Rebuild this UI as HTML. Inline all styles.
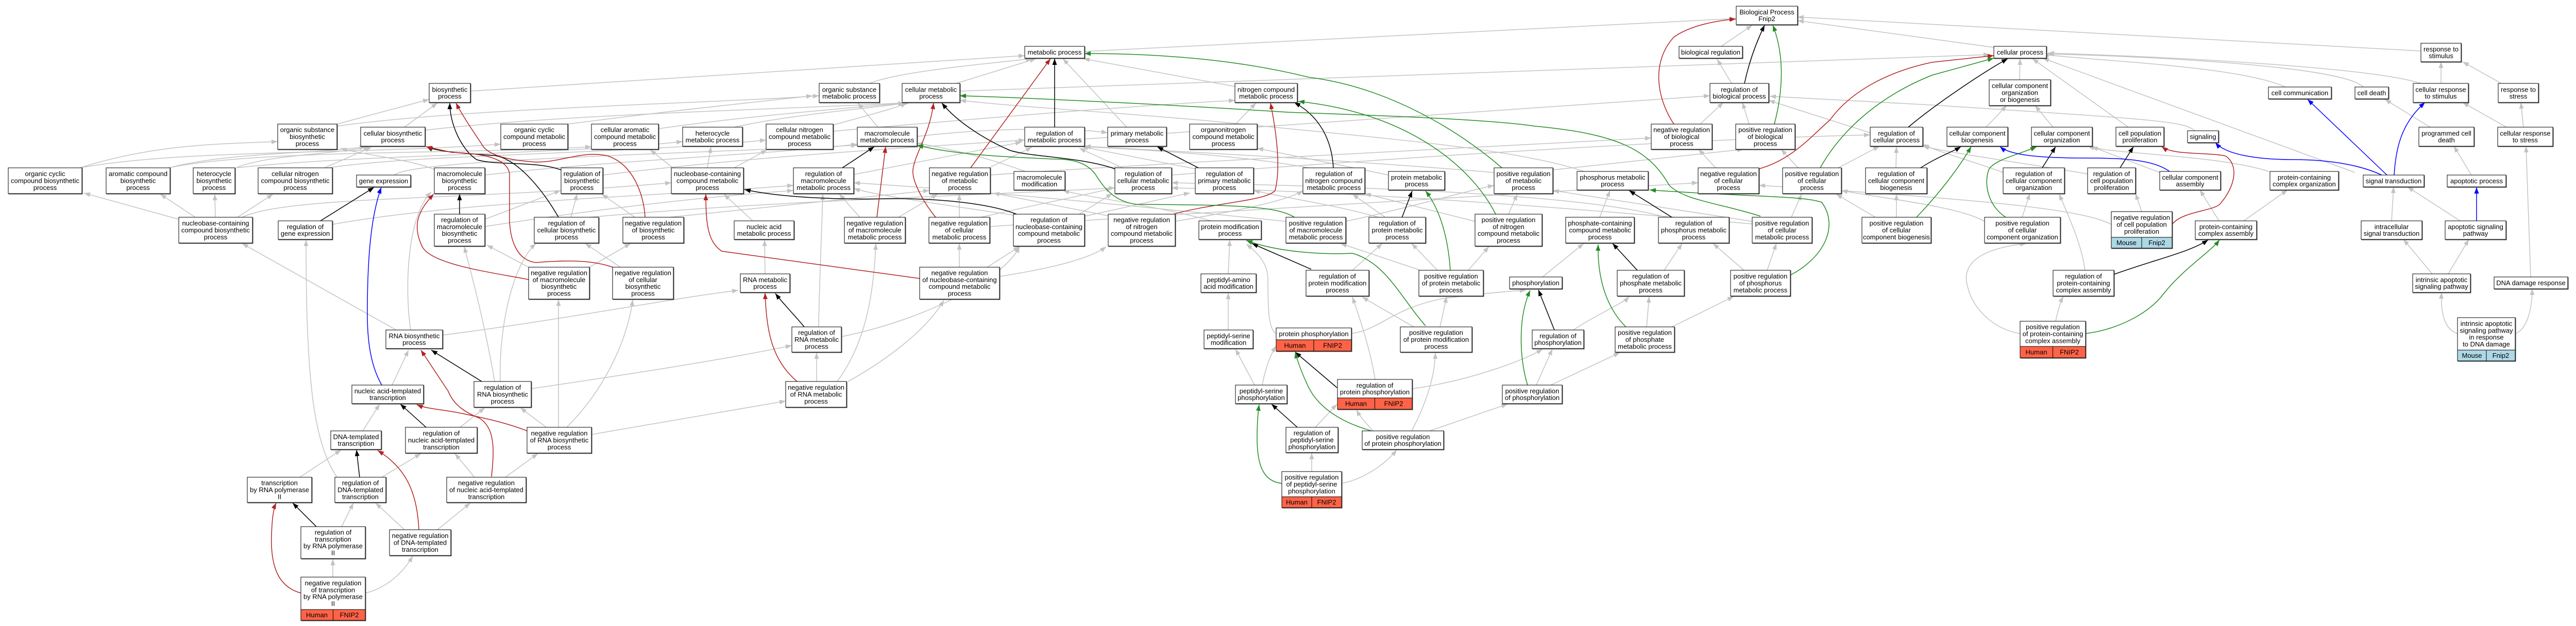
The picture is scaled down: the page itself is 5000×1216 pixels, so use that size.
<!DOCTYPE html>
<html><head><meta charset="utf-8"><style>
html,body{margin:0;padding:0;background:#fff}
svg{display:block}
text{font-family:"Liberation Sans",Arial,sans-serif;font-size:13px;text-anchor:middle;fill:#000}
.n rect{fill:#fff;stroke:#000;stroke-width:1;filter:drop-shadow(1px 1.5px 0 #4a4a4a)}
.n rect.hu{fill:#ff6347}
.n rect.mo{fill:#add8e6}
.e path{fill:none;stroke-width:1.5}
.e .g{stroke:#c3c3c3;marker-end:url(#mg)}
.e .k{stroke:#000;marker-end:url(#mk)}
.e .r{stroke:#b22222;marker-end:url(#mr)}
.e .v{stroke:#228b22;marker-end:url(#mv)}
.e .b{stroke:#0000ff;marker-end:url(#mb)}
.n line{stroke:#000;stroke-width:1}
</style></head><body>
<svg width="5000" height="1216" viewBox="0 0 5000 1216" xmlns="http://www.w3.org/2000/svg">
<defs>
<marker id="mg" viewBox="0 0 12 9" refX="12" refY="4.5" markerWidth="12" markerHeight="9" markerUnits="userSpaceOnUse" orient="auto"><path d="M0,0L12,4.5L0,9z" fill="#c3c3c3"/></marker>
<marker id="mk" viewBox="0 0 12 9" refX="12" refY="4.5" markerWidth="12" markerHeight="9" markerUnits="userSpaceOnUse" orient="auto"><path d="M0,0L12,4.5L0,9z" fill="#000"/></marker>
<marker id="mr" viewBox="0 0 12 9" refX="12" refY="4.5" markerWidth="12" markerHeight="9" markerUnits="userSpaceOnUse" orient="auto"><path d="M0,0L12,4.5L0,9z" fill="#b22222"/></marker>
<marker id="mv" viewBox="0 0 12 9" refX="12" refY="4.5" markerWidth="12" markerHeight="9" markerUnits="userSpaceOnUse" orient="auto"><path d="M0,0L12,4.5L0,9z" fill="#228b22"/></marker>
<marker id="mb" viewBox="0 0 12 9" refX="12" refY="4.5" markerWidth="12" markerHeight="9" markerUnits="userSpaceOnUse" orient="auto"><path d="M0,0L12,4.5L0,9z" fill="#0000ff"/></marker>
</defs>
<rect width="5000" height="1216" fill="#fff"/>
<g class="e">
<!-- gray edges -->
<path class="g" d="M2105,100 L3369,36"/>
<path class="g" d="M913,177 L1989,108"/>
<path class="g" d="M3341,90 L3401,49"/>
<path class="g" d="M3870,92 L3489,40"/>
<path class="g" d="M4699,99 L3489,33"/>
<path class="g" d="M1688,162 C1740,140 1900,125 2003,114"/>
<path class="g" d="M1856,162 L2011,114"/>
<path class="g" d="M2397,168 L2103,114"/>
<path class="g" d="M2187,247 L2063,114"/>
<path class="g" d="M1863,177 L3862,106"/>
<path class="g" d="M3361,162 L3333,115"/>
<path class="g" d="M2105,270 L3319,186"/>
<path class="g" d="M3630,258 L3433,195"/>
<path class="g" d="M3300,241 L3345,199"/>
<path class="g" d="M3395,241 L3382,199"/>
<path class="g" d="M3330,326 L3297,290"/>
<path class="g" d="M3490,326 L3457,290"/>
<path class="g" d="M3568,326 L3648,284"/>
<path class="g" d="M3920,155 L3921,114"/>
<path class="g" d="M3855,247 L3895,205"/>
<path class="g" d="M3985,247 L3950,205"/>
<path class="g" d="M4131,247 L3945,114"/>
<path class="g" d="M4436,169 C4350,130 4100,120 3965,106"/>
<path class="g" d="M4587,169 C4550,130 4200,110 3975,105"/>
<path class="g" d="M4699,162 C4600,130 4200,110 3975,103"/>
<path class="g" d="M4738,162 L4738,120"/>
<path class="g" d="M4855,162 L4780,120"/>
<path class="g" d="M4717,247 L4629,193"/>
<path class="g" d="M4865,247 L4780,199"/>
<path class="g" d="M4898,247 L4893,199"/>
<path class="g" d="M4797,340 L4763,284"/>
<path class="g" d="M4571,335 L3965,113"/>
<path class="g" d="M4404,333 C4300,300 4100,300 4053,284"/>
<path class="g" d="M4192,335 L4060,285"/>
<path class="g" d="M4307,429 L4270,369"/>
<path class="g" d="M4355,429 L4440,369"/>
<path class="g" d="M4642,429 L4646,363"/>
<path class="g" d="M4775,429 L4673,363"/>
<path class="g" d="M4721,532 L4665,465"/>
<path class="g" d="M4752,532 L4792,465"/>
<path class="g" d="M4912,538 L4903,284"/>
<path class="g" d="M4770,648 C4745,640 4737,610 4739,568"/>
<path class="g" d="M4882,648 C4905,640 4915,600 4915,561"/>
<path class="g" d="M4260,254 C4240,235 4180,232 3750,204 L3435,187"/>
<path class="g" d="M4053,338 C3950,320 3800,300 3732,284"/>
<path class="g" d="M3888,335 C3820,310 3760,295 3732,280"/>
<path class="g" d="M4157,411 L4145,376"/>
<path class="g" d="M4098,436 C4050,410 3900,390 3414,360"/>
<path class="g" d="M3925,422 L3940,376"/>
<path class="g" d="M3852,430 C3800,400 3650,385 3574,370"/>
<path class="g" d="M4047,525 C4040,470 4010,410 3997,377"/>
<path class="g" d="M3990,624 C3995,600 4000,585 4005,576"/>
<path class="g" d="M3921,648 C3870,640 3830,600 3820,560 C3800,500 3870,480 3933,473"/>
<path class="g" d="M3680,326 L3681,285"/>
<path class="g" d="M3681,422 L3681,377"/>
<path class="g" d="M3640,422 L3564,377"/>
<path class="g" d="M3477,422 L3497,377"/>
<path class="g" d="M3233,422 C3050,370 2500,360 2274,355"/>
<path class="g" d="M3230,525 L3265,473"/>
<path class="g" d="M3385,525 L3325,473"/>
<path class="g" d="M3430,525 L3448,473"/>
<path class="g" d="M3054,641 C3100,610 3150,590 3162,576"/>
<path class="g" d="M2742,755 C2850,740 2960,700 2994,678"/>
<path class="g" d="M2982,748 L3013,678"/>
<path class="g" d="M3010,748 L3144,685"/>
<path class="g" d="M3196,635 L3201,576"/>
<path class="g" d="M3245,635 L3365,576"/>
<path class="g" d="M2994,538 L3074,473"/>
<path class="g" d="M3105,422 L3125,370"/>
<path class="g" d="M3074,333 C2950,290 2700,270 2400,240 C2200,220 2000,210 1863,195"/>
<path class="g" d="M3014,330 L3384,290"/>
<path class="g" d="M1922,340 C2200,320 2600,300 3205,268"/>
<path class="g" d="M2900,335 C2600,310 2300,295 2105,284"/>
<path class="g" d="M2679,423 C2600,400 2500,385 2433,370"/>
<path class="g" d="M2690,423 L2625,377"/>
<path class="g" d="M2790,525 L2740,473"/>
<path class="g" d="M2850,525 L2890,479"/>
<path class="g" d="M2757,525 L2602,473"/>
<path class="g" d="M2625,525 L2683,473"/>
<path class="g" d="M2744,635 L2644,577"/>
<path class="g" d="M2795,635 L2808,576"/>
<path class="g" d="M2669,737 C2660,680 2640,620 2625,577"/>
<path class="g" d="M2665,837 C2650,820 2640,810 2633,796"/>
<path class="g" d="M2740,837 C2770,780 2785,730 2786,685"/>
<path class="g" d="M2775,837 L2926,785"/>
<path class="g" d="M2477,648 C2462,640 2461,600 2461,541 C2460,510 2440,490 2419,474"/>
<path class="g" d="M2623,648 C2680,640 2700,600 2800,580 C2880,570 2930,565 2962,564"/>
<path class="g" d="M2384,532 L2387,466"/>
<path class="g" d="M2384,641 L2384,569"/>
<path class="g" d="M2435,748 L2398,678"/>
<path class="g" d="M2450,748 C2455,720 2465,690 2477,672"/>
<path class="g" d="M2553,830 L2595,785"/>
<path class="g" d="M2546,916 L2546,880"/>
<path class="g" d="M2604,939 C2650,930 2690,900 2711,874"/>
<path class="g" d="M2350,429 C2250,400 2120,385 2063,370"/>
<path class="g" d="M1990,333 C1900,300 1820,285 1780,278"/>
<path class="g" d="M2695,340 C2600,320 2500,300 2440,288"/>
<path class="g" d="M1373,326 L1380,285"/>
<path class="g" d="M1306,326 L1262,291"/>
<path class="g" d="M1425,326 L1489,291"/>
<path class="g" d="M1461,429 L1405,377"/>
<path class="g" d="M1485,532 L1484,466"/>
<path class="g" d="M1633,654 C1800,620 1950,540 1979,479"/>
<path class="g" d="M1585,741 L1585,685"/>
<path class="g" d="M1646,741 C1720,700 1800,640 1832,583"/>
<path class="g" d="M1625,741 C1670,680 1695,600 1700,473"/>
<path class="g" d="M1589,635 C1590,560 1595,450 1597,377"/>
<path class="g" d="M1031,755 C1200,730 1400,700 1537,671"/>
<path class="g" d="M1148,844 L1525,779"/>
<path class="g" d="M1060,830 L1010,792"/>
<path class="g" d="M1084,830 L1084,582"/>
<path class="g" d="M1100,830 C1180,750 1220,650 1228,582"/>
<path class="g" d="M971,741 C968,650 990,520 1040,473"/>
<path class="g" d="M960,741 C945,650 920,550 901,479"/>
<path class="g" d="M769,641 L470,473"/>
<path class="g" d="M859,651 C1100,620 1300,580 1433,564"/>
<path class="g" d="M797,641 C785,560 790,420 837,373"/>
<path class="g" d="M761,748 L793,680"/>
<path class="g" d="M893,830 L941,792"/>
<path class="g" d="M921,927 L883,881"/>
<path class="g" d="M981,927 L1044,881"/>
<path class="g" d="M704,837 L737,785"/>
<path class="g" d="M741,927 L817,881"/>
<path class="g" d="M654,927 C610,860 594,750 594,466"/>
<path class="g" d="M582,927 L662,874"/>
<path class="g" d="M663,1023 L686,977"/>
<path class="g" d="M785,1029 L729,977"/>
<path class="g" d="M849,1029 L913,977"/>
<path class="g" d="M646,1121 L646,1086"/>
<path class="g" d="M709,1152 C760,1140 790,1100 801,1080"/>
<path class="g" d="M347,426 L163,375"/>
<path class="g" d="M379,422 L311,377"/>
<path class="g" d="M418,422 L417,377"/>
<path class="g" d="M461,422 L530,377"/>
<path class="g" d="M470,422 C560,380 900,390 1303,355"/>
<path class="g" d="M155,326 C300,280 420,280 539,275"/>
<path class="g" d="M155,326 C350,290 700,300 972,280"/>
<path class="g" d="M327,326 C500,290 900,300 1148,285"/>
<path class="g" d="M327,326 C450,295 600,300 710,285"/>
<path class="g" d="M458,326 C520,300 650,300 717,285"/>
<path class="g" d="M458,326 C700,300 1100,300 1325,275"/>
<path class="g" d="M630,326 L721,286"/>
<path class="g" d="M638,326 C800,300 1200,300 1487,272"/>
<path class="g" d="M654,241 L833,193"/>
<path class="g" d="M654,245 C900,210 1400,200 1590,186"/>
<path class="g" d="M785,247 L849,200"/>
<path class="g" d="M825,253 C1100,220 1600,210 1768,199"/>
<path class="g" d="M845,330 C800,310 700,300 661,288"/>
<path class="g" d="M941,340 C1200,310 1500,300 1664,280"/>
<path class="g" d="M765,340 C800,310 1300,300 1664,282"/>
<path class="g" d="M645,436 C900,390 1300,380 1540,360"/>
<path class="g" d="M941,426 L1088,370"/>
<path class="g" d="M941,440 C1200,400 1400,380 1540,370"/>
<path class="g" d="M1108,422 L1120,377"/>
<path class="g" d="M1144,422 C1500,390 1900,380 2164,365"/>
<path class="g" d="M1232,422 L1168,377"/>
<path class="g" d="M1300,422 C1500,400 1700,380 1804,370"/>
<path class="g" d="M1026,519 L945,476"/>
<path class="g" d="M1144,519 L1224,473"/>
<path class="g" d="M1204,519 L1136,473"/>
<path class="g" d="M1657,339 L1983,276"/>
<path class="g" d="M2179,326 L2095,288"/>
<path class="g" d="M2330,330 L2100,285"/>
<path class="g" d="M1920,326 L2003,286"/>
<path class="g" d="M1669,422 L1629,377"/>
<path class="g" d="M1744,422 L1820,377"/>
<path class="g" d="M1862,422 L1862,377"/>
<path class="g" d="M1904,422 C2000,400 2100,380 2159,366"/>
<path class="g" d="M2095,416 L2159,376"/>
<path class="g" d="M1967,418 C1850,400 1700,380 1657,366"/>
<path class="g" d="M2105,420 C2200,400 2280,380 2310,375"/>
<path class="g" d="M2155,420 L1928,375"/>
<path class="g" d="M2281,430 C2400,410 2500,390 2529,370"/>
<path class="g" d="M1916,519 L1979,479"/>
<path class="g" d="M1862,519 L1862,473"/>
<path class="g" d="M1940,537 C2050,520 2120,500 2147,479"/>
<path class="g" d="M2398,241 L2438,200"/>
<path class="g" d="M1617,243 C1680,225 1740,210 1760,200"/>
<path class="g" d="M1617,255 C1900,230 2200,205 2397,195"/>
<path class="g" d="M1704,247 L1665,200"/>
<path class="g" d="M1425,247 C1550,220 1700,210 1757,200"/>
<path class="g" d="M1102,241 C1300,215 1500,195 1577,186"/>
<path class="g" d="M1278,250 C1450,225 1650,210 1755,200"/>
<path class="g" d="M1170,340 C1500,300 1800,285 1989,272"/>
<path class="g" d="M2274,340 C2800,300 3300,270 3630,262"/>
<path class="g" d="M1921,440 C2400,410 3000,370 3296,355"/>
<path class="g" d="M2540,326 C2400,300 2200,290 2105,285"/>
<path class="g" d="M1780,265 C1950,245 2100,250 2150,258"/>
<path class="g" d="M2496,430 C2200,400 1900,370 1657,355"/>
<path class="g" d="M2612,430 C2750,400 2850,370 2900,360"/>
<path class="g" d="M2928,416 L2945,377"/>
<path class="g" d="M2863,430 L2649,376"/>
<path class="g" d="M3401,435 C3000,400 2600,370 2274,365"/>
<path class="g" d="M3401,430 L3014,370"/>
<!-- black -->
<path class="k" d="M1089,330 C1040,312 960,322 925,310 C895,290 873,240 873,200"/>
<path class="k" d="M1084,422 C1060,380 1010,310 960,302 C900,298 850,295 828,285"/>
<path class="k" d="M892,416 L892,377"/>
<path class="k" d="M622,429 L726,364"/>
<path class="k" d="M1635,326 L1697,285"/>
<path class="k" d="M2164,328 C2100,305 2000,305 1960,292 C1920,275 1860,240 1828,200"/>
<path class="k" d="M2047,247 L2047,114"/>
<path class="k" d="M2326,326 L2246,285"/>
<path class="k" d="M1973,416 C1920,395 1820,385 1730,386 C1640,388 1520,385 1445,368"/>
<path class="k" d="M2588,326 C2585,270 2560,225 2512,199"/>
<path class="k" d="M2721,423 L2741,371"/>
<path class="k" d="M2545,523 L2430,473"/>
<path class="k" d="M2595,753 L2514,684"/>
<path class="k" d="M2518,830 L2468,785"/>
<path class="k" d="M3017,641 L2986,563"/>
<path class="k" d="M3245,422 L3162,370"/>
<path class="k" d="M3178,525 L3130,473"/>
<path class="k" d="M3386,162 C3395,120 3410,80 3425,49"/>
<path class="k" d="M3704,247 C3760,200 3850,140 3897,114"/>
<path class="k" d="M3728,326 C3760,305 3790,295 3806,285"/>
<path class="k" d="M3964,326 L3990,285"/>
<path class="k" d="M4115,326 L4141,285"/>
<path class="k" d="M4103,533 C4180,505 4250,490 4286,466"/>
<path class="k" d="M935,741 L837,680"/>
<path class="k" d="M827,830 L777,785"/>
<path class="k" d="M698,927 L692,874"/>
<path class="k" d="M614,1023 L568,977"/>
<path class="k" d="M1561,635 C1545,615 1520,590 1505,570"/>
<!-- red -->
<path class="r" d="M1252,422 C1250,380 1230,320 1180,303 C1130,290 1080,320 1030,314 C980,310 945,300 935,280 C915,250 895,220 885,200"/>
<path class="r" d="M1189,519 C1150,505 1100,505 1040,510 C1000,505 990,460 989,428 L989,338 C985,305 930,298 877,296 L827,285"/>
<path class="r" d="M1026,543 C960,530 840,515 820,480 C800,440 810,410 842,377"/>
<path class="r" d="M1702,422 L1719,285"/>
<path class="r" d="M1816,422 C1790,390 1770,350 1772,330 C1775,300 1805,260 1812,200"/>
<path class="r" d="M1884,326 L2039,114"/>
<path class="r" d="M2278,416 C2350,395 2460,390 2475,370 C2485,330 2480,270 2466,200"/>
<path class="r" d="M1785,541 L1401,488 C1375,470 1370,440 1370,377"/>
<path class="r" d="M1547,741 C1500,700 1488,650 1485,569"/>
<path class="r" d="M3249,241 C3215,190 3205,120 3249,72 C3280,50 3330,40 3369,37"/>
<path class="r" d="M3414,328 C3480,310 3520,260 3552,233 C3590,180 3660,140 3750,121 L3870,108"/>
<path class="r" d="M4216,436 C4235,410 4300,410 4310,395 C4340,360 4345,320 4320,303 C4280,295 4220,302 4196,285"/>
<path class="r" d="M954,926 C960,870 960,830 930,812 C900,800 880,785 870,760 L817,680"/>
<path class="r" d="M1023,837 C980,820 930,810 901,804 C860,795 830,795 809,786"/>
<path class="r" d="M813,1029 C810,960 790,910 733,875"/>
<path class="r" d="M584,1152 C540,1140 525,1100 527,1040 C528,1010 530,990 536,977"/>
<!-- green -->
<path class="v" d="M2915,326 C2840,260 2700,170 2540,150 C2400,115 2250,104 2105,104"/>
<path class="v" d="M3417,420 C3340,395 3270,390 3240,360 C3200,290 3140,260 2978,245 C2880,230 2600,222 2500,218 C2300,205 2000,190 1863,186"/>
<path class="v" d="M2514,423 C2480,400 2400,398 2207,397 C2160,392 2140,360 2127,340 C2110,315 2080,309 2047,309 C1950,305 1850,300 1780,282"/>
<path class="v" d="M2903,416 C2860,330 2740,220 2520,197"/>
<path class="v" d="M2767,633 C2720,580 2690,510 2625,492 C2570,495 2480,490 2419,467"/>
<path class="v" d="M2815,525 C2810,450 2790,400 2767,371"/>
<path class="v" d="M2662,837 C2620,825 2560,800 2537,746 C2525,720 2518,700 2514,684"/>
<path class="v" d="M2488,939 C2450,935 2440,900 2440,850 C2440,820 2442,800 2444,786"/>
<path class="v" d="M2965,748 C2950,700 2945,620 2970,564"/>
<path class="v" d="M3476,534 C3540,500 3570,440 3536,393 C3500,380 3400,383 3202,369"/>
<path class="v" d="M3156,635 C3130,610 3100,560 3102,475"/>
<path class="v" d="M3444,241 C3460,180 3465,110 3441,49"/>
<path class="v" d="M3533,326 C3570,260 3640,190 3750,146 L3870,113"/>
<path class="v" d="M3720,422 C3760,380 3800,330 3826,285"/>
<path class="v" d="M3893,422 C3860,400 3850,360 3860,330 C3870,310 3920,300 3953,285"/>
<path class="v" d="M4048,648 C4110,640 4170,610 4200,570 C4240,520 4290,490 4308,466"/>
<!-- blue -->
<path class="b" d="M741,748 C725,720 713,680 713,610 C713,500 720,420 740,364"/>
<path class="b" d="M4211,333 C4180,310 4120,307 4050,307 C3950,307 3900,300 3882,285"/>
<path class="b" d="M4623,340 C4580,320 4520,310 4450,310 C4380,310 4320,300 4300,277"/>
<path class="b" d="M4633,340 L4479,193"/>
<path class="b" d="M4647,340 C4650,290 4660,240 4707,199"/>
<path class="b" d="M4807,429 L4807,364"/>
</g>
<g class="n">
<rect x="3370" y="12" width="119" height="36"/><text x="3429.5" y="27.8">Biological Process<tspan x="3429.5" dy="13.4">Fnip2</tspan></text>
<rect x="1989" y="90" width="116" height="23"/><text x="2047" y="106">metabolic process</text>
<rect x="3259" y="90" width="123" height="23"/><text x="3320.5" y="106">biological regulation</text>
<rect x="3870" y="90" width="102" height="23"/><text x="3921" y="106">cellular process</text>
<rect x="4699" y="84" width="78" height="36"/><text x="4738" y="99.8">response to<tspan x="4738" dy="13.4">stimulus</tspan></text>
<rect x="833" y="162" width="80" height="37"/><text x="873" y="178.3">biosynthetic<tspan x="873" dy="13.4">process</tspan></text>
<rect x="1590" y="162" width="117" height="37"/><text x="1648.5" y="178.3">organic substance<tspan x="1648.5" dy="13.4">metabolic process</tspan></text>
<rect x="1751" y="162" width="112" height="37"/><text x="1807" y="178.3">cellular metabolic<tspan x="1807" dy="13.4">process</tspan></text>
<rect x="2397" y="162" width="121" height="37"/><text x="2457.5" y="178.3">nitrogen compound<tspan x="2457.5" dy="13.4">metabolic process</tspan></text>
<rect x="3319" y="162" width="114" height="37"/><text x="3376" y="178.3">regulation of<tspan x="3376" dy="13.4">biological process</tspan></text>
<rect x="3861" y="155" width="119" height="50"/><text x="3920.5" y="171.1">cellular component<tspan x="3920.5" dy="13.4">organization</tspan><tspan x="3920.5" dy="13.4">or biogenesis</tspan></text>
<rect x="4403" y="169" width="122" height="23"/><text x="4464" y="185">cell communication</text>
<rect x="4571" y="169" width="65" height="23"/><text x="4603.5" y="185">cell death</text>
<rect x="4684" y="162" width="107" height="37"/><text x="4737.5" y="178.3">cellular response<tspan x="4737.5" dy="13.4">to stimulus</tspan></text>
<rect x="4849" y="162" width="78" height="37"/><text x="4888" y="178.3">response to<tspan x="4888" dy="13.4">stress</tspan></text>

<rect x="539" y="241" width="115" height="49"/><text x="596.5" y="256.6">organic substance<tspan x="596.5" dy="13.4">biosynthetic</tspan><tspan x="596.5" dy="13.4">process</tspan></text>
<rect x="700" y="247" width="125" height="37"/><text x="762.5" y="263.3">cellular biosynthetic<tspan x="762.5" dy="13.4">process</tspan></text>
<rect x="972" y="241" width="130" height="49"/><text x="1037" y="256.6">organic cyclic<tspan x="1037" dy="13.4">compound metabolic</tspan><tspan x="1037" dy="13.4">process</tspan></text>
<rect x="1148" y="241" width="130" height="49"/><text x="1213" y="256.6">cellular aromatic<tspan x="1213" dy="13.4">compound metabolic</tspan><tspan x="1213" dy="13.4">process</tspan></text>
<rect x="1325" y="247" width="116" height="37"/><text x="1383" y="263.3">heterocycle<tspan x="1383" dy="13.4">metabolic process</tspan></text>
<rect x="1487" y="241" width="130" height="49"/><text x="1552" y="256.6">cellular nitrogen<tspan x="1552" dy="13.4">compound metabolic</tspan><tspan x="1552" dy="13.4">process</tspan></text>
<rect x="1664" y="247" width="116" height="37"/><text x="1722" y="263.3">macromolecule<tspan x="1722" dy="13.4">metabolic process</tspan></text>
<rect x="1989" y="247" width="116" height="37"/><text x="2047" y="263.3">regulation of<tspan x="2047" dy="13.4">metabolic process</tspan></text>
<rect x="2150" y="247" width="114" height="37"/><text x="2207" y="263.3">primary metabolic<tspan x="2207" dy="13.4">process</tspan></text>
<rect x="2309" y="241" width="131" height="49"/><text x="2374.5" y="256.6">organonitrogen<tspan x="2374.5" dy="13.4">compound metabolic</tspan><tspan x="2374.5" dy="13.4">process</tspan></text>
<rect x="3205" y="241" width="118" height="49"/><text x="3264" y="256.6">negative regulation<tspan x="3264" dy="13.4">of biological</tspan><tspan x="3264" dy="13.4">process</tspan></text>
<rect x="3369" y="241" width="115" height="49"/><text x="3426.5" y="256.6">positive regulation<tspan x="3426.5" dy="13.4">of biological</tspan><tspan x="3426.5" dy="13.4">process</tspan></text>
<rect x="3630" y="247" width="102" height="37"/><text x="3681" y="263.3">regulation of<tspan x="3681" dy="13.4">cellular process</tspan></text>
<rect x="3779" y="247" width="118" height="37"/><text x="3838" y="263.3">cellular component<tspan x="3838" dy="13.4">biogenesis</tspan></text>
<rect x="3943" y="247" width="118" height="37"/><text x="4002" y="263.3">cellular component<tspan x="4002" dy="13.4">organization</tspan></text>
<rect x="4107" y="247" width="93" height="37"/><text x="4153.5" y="263.3">cell population<tspan x="4153.5" dy="13.4">proliferation</tspan></text>
<rect x="4246" y="254" width="60" height="23"/><text x="4276" y="270">signaling</text>
<rect x="4695" y="247" width="107" height="37"/><text x="4748.5" y="263.3">programmed cell<tspan x="4748.5" dy="13.4">death</tspan></text>
<rect x="4848" y="247" width="107" height="37"/><text x="4901.5" y="263.3">cellular response<tspan x="4901.5" dy="13.4">to stress</tspan></text>

<rect x="16" y="326" width="143" height="50"/><text x="87.5" y="342.1">organic cyclic<tspan x="87.5" dy="13.4">compound biosynthetic</tspan><tspan x="87.5" dy="13.4">process</tspan></text>
<rect x="206" y="326" width="124" height="50"/><text x="268" y="342.1">aromatic compound<tspan x="268" dy="13.4">biosynthetic</tspan><tspan x="268" dy="13.4">process</tspan></text>
<rect x="375" y="326" width="81" height="50"/><text x="415.5" y="342.1">heterocycle<tspan x="415.5" dy="13.4">biosynthetic</tspan><tspan x="415.5" dy="13.4">process</tspan></text>
<rect x="501" y="326" width="144" height="50"/><text x="573" y="342.1">cellular nitrogen<tspan x="573" dy="13.4">compound biosynthetic</tspan><tspan x="573" dy="13.4">process</tspan></text>
<rect x="692" y="340" width="105" height="23"/><text x="744.5" y="356">gene expression</text>
<rect x="843" y="326" width="98" height="50"/><text x="892" y="342.1">macromolecule<tspan x="892" dy="13.4">biosynthetic</tspan><tspan x="892" dy="13.4">process</tspan></text>
<rect x="1089" y="326" width="81" height="50"/><text x="1129.5" y="342.1">regulation of<tspan x="1129.5" dy="13.4">biosynthetic</tspan><tspan x="1129.5" dy="13.4">process</tspan></text>
<rect x="1303" y="326" width="140" height="50"/><text x="1373" y="342.1">nucleobase-containing<tspan x="1373" dy="13.4">compound metabolic</tspan><tspan x="1373" dy="13.4">process</tspan></text>
<rect x="1540" y="326" width="117" height="50"/><text x="1598.5" y="342.1">regulation of<tspan x="1598.5" dy="13.4">macromolecule</tspan><tspan x="1598.5" dy="13.4">metabolic process</tspan></text>
<rect x="1804" y="326" width="118" height="50"/><text x="1863" y="342.1">negative regulation<tspan x="1863" dy="13.4">of metabolic</tspan><tspan x="1863" dy="13.4">process</tspan></text>
<rect x="1968" y="333" width="99" height="36"/><text x="2017.5" y="348.8">macromolecule<tspan x="2017.5" dy="13.4">modification</tspan></text>
<rect x="2164" y="326" width="110" height="50"/><text x="2219" y="342.1">regulation of<tspan x="2219" dy="13.4">cellular metabolic</tspan><tspan x="2219" dy="13.4">process</tspan></text>
<rect x="2320" y="326" width="113" height="50"/><text x="2376.5" y="342.1">regulation of<tspan x="2376.5" dy="13.4">primary metabolic</tspan><tspan x="2376.5" dy="13.4">process</tspan></text>
<rect x="2529" y="326" width="120" height="50"/><text x="2589" y="342.1">regulation of<tspan x="2589" dy="13.4">nitrogen compound</tspan><tspan x="2589" dy="13.4">metabolic process</tspan></text>
<rect x="2695" y="333" width="109" height="36"/><text x="2749.5" y="348.8">protein metabolic<tspan x="2749.5" dy="13.4">process</tspan></text>
<rect x="2900" y="326" width="114" height="50"/><text x="2957" y="342.1">positive regulation<tspan x="2957" dy="13.4">of metabolic</tspan><tspan x="2957" dy="13.4">process</tspan></text>
<rect x="3061" y="333" width="138" height="36"/><text x="3130" y="348.8">phosphorus metabolic<tspan x="3130" dy="13.4">process</tspan></text>
<rect x="3296" y="326" width="118" height="50"/><text x="3355" y="342.1">negative regulation<tspan x="3355" dy="13.4">of cellular</tspan><tspan x="3355" dy="13.4">process</tspan></text>
<rect x="3460" y="326" width="114" height="50"/><text x="3517" y="342.1">positive regulation<tspan x="3517" dy="13.4">of cellular</tspan><tspan x="3517" dy="13.4">process</tspan></text>
<rect x="3621" y="326" width="119" height="50"/><text x="3680.5" y="342.1">regulation of<tspan x="3680.5" dy="13.4">cellular component</tspan><tspan x="3680.5" dy="13.4">biogenesis</tspan></text>
<rect x="3888" y="326" width="119" height="50"/><text x="3947.5" y="342.1">regulation of<tspan x="3947.5" dy="13.4">cellular component</tspan><tspan x="3947.5" dy="13.4">organization</tspan></text>
<rect x="4052" y="326" width="93" height="50"/><text x="4098.5" y="342.1">regulation of<tspan x="4098.5" dy="13.4">cell population</tspan><tspan x="4098.5" dy="13.4">proliferation</tspan></text>
<rect x="4192" y="333" width="118" height="36"/><text x="4251" y="348.8">cellular component<tspan x="4251" dy="13.4">assembly</tspan></text>
<rect x="4406" y="333" width="133" height="36"/><text x="4472.5" y="348.8">protein-containing<tspan x="4472.5" dy="13.4">complex organization</tspan></text>
<rect x="4587" y="340" width="118" height="23"/><text x="4646" y="356">signal transduction</text>
<rect x="4750" y="340" width="114" height="23"/><text x="4807" y="356">apoptotic process</text>

<rect x="347" y="422" width="143" height="50"/><text x="418.5" y="438.1">nucleobase-containing<tspan x="418.5" dy="13.4">compound biosynthetic</tspan><tspan x="418.5" dy="13.4">process</tspan></text>
<rect x="540" y="429" width="105" height="36"/><text x="592.5" y="444.8">regulation of<tspan x="592.5" dy="13.4">gene expression</tspan></text>
<rect x="843" y="416" width="98" height="62"/><text x="892" y="431.4">regulation of<tspan x="892" dy="13.4">macromolecule</tspan><tspan x="892" dy="13.4">biosynthetic</tspan><tspan x="892" dy="13.4">process</tspan></text>
<rect x="1037" y="422" width="125" height="50"/><text x="1099.5" y="438.1">regulation of<tspan x="1099.5" dy="13.4">cellular biosynthetic</tspan><tspan x="1099.5" dy="13.4">process</tspan></text>
<rect x="1209" y="422" width="118" height="50"/><text x="1268" y="438.1">negative regulation<tspan x="1268" dy="13.4">of biosynthetic</tspan><tspan x="1268" dy="13.4">process</tspan></text>
<rect x="1425" y="429" width="116" height="36"/><text x="1483" y="444.8">nucleic acid<tspan x="1483" dy="13.4">metabolic process</tspan></text>
<rect x="1639" y="422" width="118" height="50"/><text x="1698" y="438.1">negative regulation<tspan x="1698" dy="13.4">of macromolecule</tspan><tspan x="1698" dy="13.4">metabolic process</tspan></text>
<rect x="1803" y="422" width="118" height="50"/><text x="1862" y="438.1">negative regulation<tspan x="1862" dy="13.4">of cellular</tspan><tspan x="1862" dy="13.4">metabolic process</tspan></text>
<rect x="1967" y="416" width="138" height="62"/><text x="2036" y="431.4">regulation of<tspan x="2036" dy="13.4">nucleobase-containing</tspan><tspan x="2036" dy="13.4">compound metabolic</tspan><tspan x="2036" dy="13.4">process</tspan></text>
<rect x="2151" y="416" width="130" height="62"/><text x="2216" y="431.4">negative regulation<tspan x="2216" dy="13.4">of nitrogen</tspan><tspan x="2216" dy="13.4">compound metabolic</tspan><tspan x="2216" dy="13.4">process</tspan></text>
<rect x="2327" y="429" width="121" height="36"/><text x="2387.5" y="444.8">protein modification<tspan x="2387.5" dy="13.4">process</tspan></text>
<rect x="2496" y="422" width="116" height="50"/><text x="2554" y="438.1">positive regulation<tspan x="2554" dy="13.4">of macromolecule</tspan><tspan x="2554" dy="13.4">metabolic process</tspan></text>
<rect x="2657" y="422" width="110" height="50"/><text x="2712" y="438.1">regulation of<tspan x="2712" dy="13.4">protein metabolic</tspan><tspan x="2712" dy="13.4">process</tspan></text>
<rect x="2863" y="416" width="130" height="62"/><text x="2928" y="431.4">positive regulation<tspan x="2928" dy="13.4">of nitrogen</tspan><tspan x="2928" dy="13.4">compound metabolic</tspan><tspan x="2928" dy="13.4">process</tspan></text>
<rect x="3039" y="422" width="133" height="50"/><text x="3105.5" y="438.1">phosphate-containing<tspan x="3105.5" dy="13.4">compound metabolic</tspan><tspan x="3105.5" dy="13.4">process</tspan></text>
<rect x="3219" y="422" width="137" height="50"/><text x="3287.5" y="438.1">regulation of<tspan x="3287.5" dy="13.4">phosphorus metabolic</tspan><tspan x="3287.5" dy="13.4">process</tspan></text>
<rect x="3401" y="422" width="116" height="50"/><text x="3459" y="438.1">positive regulation<tspan x="3459" dy="13.4">of cellular</tspan><tspan x="3459" dy="13.4">metabolic process</tspan></text>
<rect x="3614" y="422" width="134" height="50"/><text x="3681" y="438.1">positive regulation<tspan x="3681" dy="13.4">of cellular</tspan><tspan x="3681" dy="13.4">component biogenesis</tspan></text>
<rect x="3852" y="422" width="147" height="50"/><text x="3925.5" y="438.1">positive regulation<tspan x="3925.5" dy="13.4">of cellular</tspan><tspan x="3925.5" dy="13.4">component organization</tspan></text>
<rect x="4098" y="411" width="118" height="50"/><text x="4157" y="427.1">negative regulation<tspan x="4157" dy="13.4">of cell population</tspan><tspan x="4157" dy="13.4">proliferation</tspan></text>
<rect class="mo" x="4098" y="461" width="118" height="21"/><line x1="4157" y1="461" x2="4157" y2="482"/><text x="4127.5" y="476">Mouse</text><text x="4186.5" y="476">Fnip2</text>
<rect x="4261" y="429" width="119" height="36"/><text x="4320.5" y="444.8">protein-containing<tspan x="4320.5" dy="13.4">complex assembly</tspan></text>
<rect x="4583" y="429" width="118" height="36"/><text x="4642" y="444.8">intracellular<tspan x="4642" dy="13.4">signal transduction</tspan></text>
<rect x="4746" y="429" width="118" height="36"/><text x="4805" y="444.8">apoptotic signaling<tspan x="4805" dy="13.4">pathway</tspan></text>

<rect x="1026" y="519" width="118" height="62"/><text x="1085" y="534.4">negative regulation<tspan x="1085" dy="13.4">of macromolecule</tspan><tspan x="1085" dy="13.4">biosynthetic</tspan><tspan x="1085" dy="13.4">process</tspan></text>
<rect x="1189" y="519" width="118" height="62"/><text x="1248" y="534.4">negative regulation<tspan x="1248" dy="13.4">of cellular</tspan><tspan x="1248" dy="13.4">biosynthetic</tspan><tspan x="1248" dy="13.4">process</tspan></text>
<rect x="1437" y="532" width="96" height="36"/><text x="1485" y="547.8">RNA metabolic<tspan x="1485" dy="13.4">process</tspan></text>
<rect x="1785" y="519" width="155" height="62"/><text x="1862.5" y="534.4">negative regulation<tspan x="1862.5" dy="13.4">of nucleobase-containing</tspan><tspan x="1862.5" dy="13.4">compound metabolic</tspan><tspan x="1862.5" dy="13.4">process</tspan></text>
<rect x="2331" y="532" width="107" height="36"/><text x="2384.5" y="547.8">peptidyl-amino<tspan x="2384.5" dy="13.4">acid modification</tspan></text>
<rect x="2535" y="525" width="122" height="50"/><text x="2596" y="541.1">regulation of<tspan x="2596" dy="13.4">protein modification</tspan><tspan x="2596" dy="13.4">process</tspan></text>
<rect x="2754" y="525" width="125" height="50"/><text x="2816.5" y="541.1">positive regulation<tspan x="2816.5" dy="13.4">of protein metabolic</tspan><tspan x="2816.5" dy="13.4">process</tspan></text>
<rect x="2930" y="538" width="102" height="23"/><text x="2981" y="554">phosphorylation</text>
<rect x="3139" y="525" width="130" height="50"/><text x="3204" y="541.1">regulation of<tspan x="3204" dy="13.4">phosphate metabolic</tspan><tspan x="3204" dy="13.4">process</tspan></text>
<rect x="3359" y="525" width="116" height="50"/><text x="3417" y="541.1">positive regulation<tspan x="3417" dy="13.4">of phosphorus</tspan><tspan x="3417" dy="13.4">metabolic process</tspan></text>
<rect x="3985" y="525" width="118" height="50"/><text x="4044" y="541.1">regulation of<tspan x="4044" dy="13.4">protein-containing</tspan><tspan x="4044" dy="13.4">complex assembly</tspan></text>
<rect x="4683" y="532" width="112" height="36"/><text x="4739" y="547.8">intrinsic apoptotic<tspan x="4739" dy="13.4">signaling pathway</tspan></text>
<rect x="4841" y="538" width="143" height="23"/><text x="4912.5" y="554">DNA damage response</text>

<rect x="749" y="641" width="110" height="36"/><text x="804" y="656.8">RNA biosynthetic<tspan x="804" dy="13.4">process</tspan></text>
<rect x="1537" y="635" width="96" height="49"/><text x="1585" y="650.6">regulation of<tspan x="1585" dy="13.4">RNA metabolic</tspan><tspan x="1585" dy="13.4">process</tspan></text>
<rect x="2337" y="641" width="95" height="36"/><text x="2384.5" y="656.8">peptidyl-serine<tspan x="2384.5" dy="13.4">modification</tspan></text>
<rect x="2477" y="637" width="146" height="23"/><text x="2550" y="653">protein phosphorylation</text>
<rect class="hu" x="2477" y="660" width="146" height="22"/><line x1="2550" y1="660" x2="2550" y2="682"/><text x="2513.5" y="675.5">Human</text><text x="2586.5" y="675.5">FNIP2</text>
<rect x="2718" y="635" width="139" height="49"/><text x="2787.5" y="650.6">positive regulation<tspan x="2787.5" dy="13.4">of protein modification</tspan><tspan x="2787.5" dy="13.4">process</tspan></text>
<rect x="2974" y="641" width="100" height="36"/><text x="3024" y="656.8">regulation of<tspan x="3024" dy="13.4">phosphorylation</tspan></text>
<rect x="3135" y="635" width="115" height="49"/><text x="3192.5" y="650.6">positive regulation<tspan x="3192.5" dy="13.4">of phosphate</tspan><tspan x="3192.5" dy="13.4">metabolic process</tspan></text>
<rect x="3921" y="624" width="127" height="49"/><text x="3984.5" y="639.6">positive regulation<tspan x="3984.5" dy="13.4">of protein-containing</tspan><tspan x="3984.5" dy="13.4">complex assembly</tspan></text>
<rect class="hu" x="3921" y="673" width="127" height="22"/><line x1="3984.5" y1="673" x2="3984.5" y2="695"/><text x="3952.5" y="688.5">Human</text><text x="4016.5" y="688.5">FNIP2</text>
<rect x="4770" y="617" width="112" height="63"/><text x="4826" y="632.9">intrinsic apoptotic<tspan x="4826" dy="13.4">signaling pathway</tspan><tspan x="4826" dy="13.4">in response</tspan><tspan x="4826" dy="13.4">to DNA damage</tspan></text>
<rect class="mo" x="4770" y="680" width="112" height="21"/><line x1="4826" y1="680" x2="4826" y2="701"/><text x="4798" y="695">Mouse</text><text x="4854" y="695">Fnip2</text>

<rect x="683" y="748" width="139" height="36"/><text x="752.5" y="763.8">nucleic acid-templated<tspan x="752.5" dy="13.4">transcription</tspan></text>
<rect x="920" y="741" width="111" height="50"/><text x="975.5" y="757.1">regulation of<tspan x="975.5" dy="13.4">RNA biosynthetic</tspan><tspan x="975.5" dy="13.4">process</tspan></text>
<rect x="1525" y="741" width="118" height="50"/><text x="1584" y="757.1">negative regulation<tspan x="1584" dy="13.4">of RNA metabolic</tspan><tspan x="1584" dy="13.4">process</tspan></text>
<rect x="2398" y="748" width="100" height="36"/><text x="2448" y="763.8">peptidyl-serine<tspan x="2448" dy="13.4">phosphorylation</tspan></text>
<rect x="2596" y="737" width="145" height="36"/><text x="2668.5" y="752.8">regulation of<tspan x="2668.5" dy="13.4">protein phosphorylation</tspan></text>
<rect class="hu" x="2596" y="773" width="145" height="22"/><line x1="2668.5" y1="773" x2="2668.5" y2="795"/><text x="2632" y="788.5">Human</text><text x="2705" y="788.5">FNIP2</text>
<rect x="2916" y="748" width="116" height="36"/><text x="2974" y="763.8">positive regulation<tspan x="2974" dy="13.4">of phosphorylation</tspan></text>

<rect x="642" y="837" width="98" height="36"/><text x="691" y="852.8">DNA-templated<tspan x="691" dy="13.4">transcription</tspan></text>
<rect x="787" y="830" width="139" height="50"/><text x="856.5" y="846.1">regulation of<tspan x="856.5" dy="13.4">nucleic acid-templated</tspan><tspan x="856.5" dy="13.4">transcription</tspan></text>
<rect x="1023" y="830" width="125" height="50"/><text x="1085.5" y="846.1">negative regulation<tspan x="1085.5" dy="13.4">of RNA biosynthetic</tspan><tspan x="1085.5" dy="13.4">process</tspan></text>
<rect x="2496" y="830" width="101" height="49"/><text x="2546.5" y="845.6">regulation of<tspan x="2546.5" dy="13.4">peptidyl-serine</tspan><tspan x="2546.5" dy="13.4">phosphorylation</tspan></text>
<rect x="2644" y="837" width="158" height="36"/><text x="2723" y="852.8">positive regulation<tspan x="2723" dy="13.4">of protein phosphorylation</tspan></text>

<rect x="480" y="927" width="125" height="49"/><text x="542.5" y="942.6">transcription<tspan x="542.5" dy="13.4">by RNA polymerase</tspan><tspan x="542.5" dy="13.4">II</tspan></text>
<rect x="650" y="927" width="99" height="49"/><text x="699.5" y="942.6">regulation of<tspan x="699.5" dy="13.4">DNA-templated</tspan><tspan x="699.5" dy="13.4">transcription</tspan></text>
<rect x="867" y="927" width="154" height="49"/><text x="944" y="942.6">negative regulation<tspan x="944" dy="13.4">of nucleic acid-templated</tspan><tspan x="944" dy="13.4">transcription</tspan></text>
<rect x="2488" y="916" width="116" height="49"/><text x="2546" y="931.6">positive regulation<tspan x="2546" dy="13.4">of peptidyl-serine</tspan><tspan x="2546" dy="13.4">phosphorylation</tspan></text>
<rect class="hu" x="2488" y="965" width="116" height="21"/><line x1="2546" y1="965" x2="2546" y2="986"/><text x="2517" y="980">Human</text><text x="2575" y="980">FNIP2</text>

<rect x="584" y="1023" width="125" height="62"/><text x="646.5" y="1038.4">regulation of<tspan x="646.5" dy="13.4">transcription</tspan><tspan x="646.5" dy="13.4">by RNA polymerase</tspan><tspan x="646.5" dy="13.4">II</tspan></text>
<rect x="756" y="1029" width="119" height="50"/><text x="815.5" y="1045.1">negative regulation<tspan x="815.5" dy="13.4">of DNA-templated</tspan><tspan x="815.5" dy="13.4">transcription</tspan></text>

<rect x="584" y="1121" width="125" height="63"/><text x="646.5" y="1136.9">negative regulation<tspan x="646.5" dy="13.4">of transcription</tspan><tspan x="646.5" dy="13.4">by RNA polymerase</tspan><tspan x="646.5" dy="13.4">II</tspan></text>
<rect class="hu" x="584" y="1184" width="125" height="21"/><line x1="646.5" y1="1184" x2="646.5" y2="1205"/><text x="615" y="1199">Human</text><text x="678" y="1199">FNIP2</text>
</g>
</svg>
</body></html>
